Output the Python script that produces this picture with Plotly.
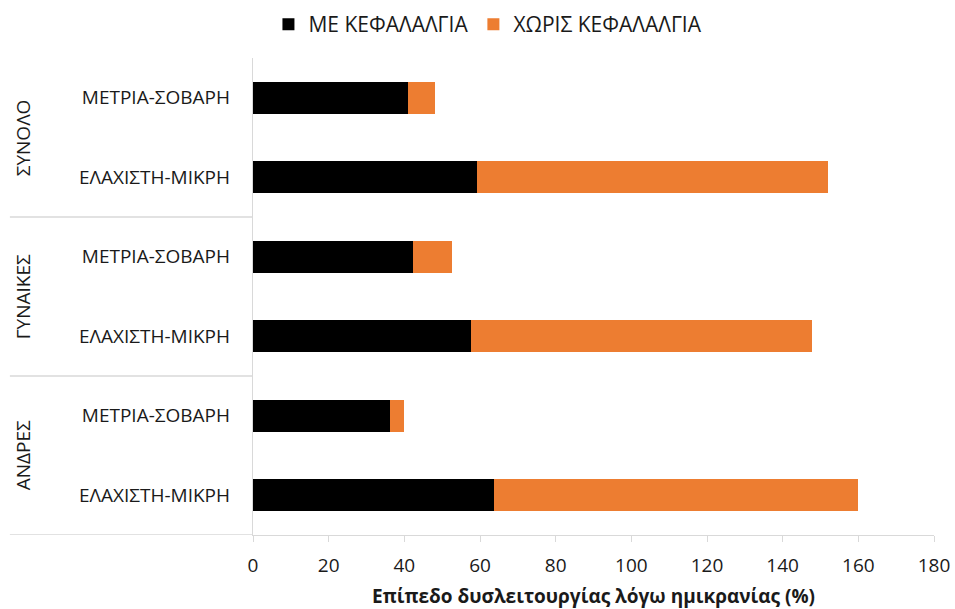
import plotly.graph_objects as go

groups = ["ΑΝΔΡΕΣ", "ΓΥΝΑΙΚΕΣ", "ΣΥΝΟΛΟ"]
levels = ["ΕΛΑΧΙΣΤΗ-ΜΙΚΡΗ", "ΜΕΤΡΙΑ-ΣΟΒΑΡΗ"]
# bottom-to-top order: ΑΝΔΡΕΣ ΕΛΑΧ, ΑΝΔΡΕΣ ΜΕΤΡ, ΓΥΝΑΙΚΕΣ ΕΛΑΧ, ΓΥΝΑΙΚΕΣ ΜΕΤΡ, ΣΥΝΟΛΟ ΕΛΑΧ, ΣΥΝΟΛΟ ΜΕΤΡ
with_headache = [63.6, 36.3, 57.6, 42.4, 59.2, 41.0]
without_headache = [96.4, 3.6, 90.1, 10.1, 92.8, 7.1]
x_ticks = [0, 20, 40, 60, 80, 100, 120, 140, 160, 180]

tick_labels = [lv for g in groups for lv in levels]
ypos = list(range(len(tick_labels)))

FONT = "Open Sans"
TXT = "#1a1a1a"
fig = go.Figure()
fig.add_trace(go.Bar(y=ypos, x=with_headache, orientation="h", name="ΜΕ ΚΕΦΑΛΑΛΓΙΑ",
                     marker=dict(color="#000000", line=dict(width=0))))
fig.add_trace(go.Bar(y=ypos, x=without_headache, orientation="h", name="ΧΩΡΙΣ ΚΕΦΑΛΑΛΓΙΑ",
                     marker=dict(color="#ED7D31", line=dict(width=0))))

fig.update_layout(
    width=955, height=609, barmode="stack", bargap=0.6,
    paper_bgcolor="white", plot_bgcolor="white",
    margin=dict(l=253, r=21, t=58, b=74, autoexpand=False),
    font=dict(family=FONT, size=19, color=TXT),
    legend=dict(orientation="h", x=0.345, xanchor="center", y=1.07, yanchor="middle",
                font=dict(size=21, color=TXT), traceorder="normal", itemwidth=30),
    showlegend=True,
)
fig.update_xaxes(range=[0, 180], tickvals=x_ticks, showgrid=False, zeroline=False,
                 automargin=False,
                 showline=True, linecolor="#D9D9D9", linewidth=1.3,
                 ticks="outside", ticklen=6, tickcolor="#D9D9D9", ticklabelstandoff=7,
                 tickfont=dict(size=19, color=TXT),
                 title=dict(text="<b>Επίπεδο δυσλειτουργίας λόγω ημικρανίας (%)</b>",
                            font=dict(size=19, color=TXT), standoff=13))
fig.update_yaxes(range=[-0.5, 5.5], tickvals=ypos, ticktext=tick_labels, showgrid=False,
                 automargin=False,
                 zeroline=False, showline=True, linecolor="#D9D9D9", linewidth=1.3,
                 ticks="", ticklabelstandoff=18, tickfont=dict(size=19, color=TXT))

# group labels and dividers
for i, g in enumerate(groups):
    fig.add_annotation(text=g, xref="paper", yref="y", x=-0.338, y=2 * i + 0.5,
                       xanchor="center", yanchor="middle",
                       textangle=-90, showarrow=False, font=dict(size=19, color=TXT))
for yv in [1.5, 3.5]:
    fig.add_shape(type="line", xref="paper", yref="y", x0=-0.357, x1=0, y0=yv, y1=yv,
                  line=dict(color="#D9D9D9", width=1.3))
fig.add_shape(type="line", xref="paper", yref="y", x0=-0.357, x1=0, y0=-0.5, y1=-0.5,
              line=dict(color="#D9D9D9", width=1.3))

fig.write_html("out.html")
